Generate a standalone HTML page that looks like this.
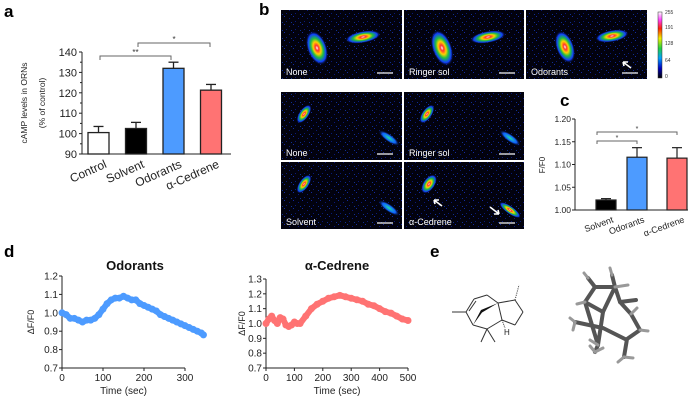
<!DOCTYPE html>
<html><head><meta charset="utf-8"><style>
html,body{margin:0;padding:0;background:#fff}
svg{display:block;font-family:"Liberation Sans",Arial,sans-serif}
</style></head><body>
<svg id="fig" width="700" height="402" viewBox="0 0 700 402">
<defs>
<radialGradient id="cellg" cx="50%" cy="50%" r="50%">
<stop offset="0" stop-color="#ffffff"/><stop offset="0.15" stop-color="#ff3030"/><stop offset="0.35" stop-color="#ffd000"/><stop offset="0.55" stop-color="#20c040"/><stop offset="0.8" stop-color="#1040ff"/><stop offset="1" stop-color="#000010" stop-opacity="0"/>
</radialGradient>
<radialGradient id="cellb" cx="50%" cy="50%" r="50%">
<stop offset="0" stop-color="#20e0a0"/><stop offset="0.6" stop-color="#1060ff"/><stop offset="1" stop-color="#000010" stop-opacity="0"/>
</radialGradient>
<pattern id="noise" width="9" height="8" patternUnits="userSpaceOnUse">
<rect width="9" height="8" fill="#02020e"/>
<rect x="1" y="2" width="1" height="1" fill="#0a1a7a"/><rect x="5" y="0" width="1" height="1" fill="#142aa0"/>
<rect x="7" y="5" width="1" height="1" fill="#0a1a7a"/><rect x="3" y="6" width="1" height="1" fill="#103090"/>
</pattern>
<linearGradient id="cbar" x1="0" y1="1" x2="0" y2="0">
<stop offset="0" stop-color="#000"/><stop offset="0.15" stop-color="#0000c0"/><stop offset="0.3" stop-color="#00a0ff"/><stop offset="0.45" stop-color="#20d040"/><stop offset="0.6" stop-color="#f0f000"/><stop offset="0.75" stop-color="#ff2000"/><stop offset="0.88" stop-color="#ff40ff"/><stop offset="1" stop-color="#fff"/>
</linearGradient>
</defs>
<g id="labels" font-weight="bold" font-size="17">
<text x="4" y="17">a</text>
<text x="259" y="15">b</text>
<text x="560" y="106">c</text>
<text x="4" y="257">d</text>
<text x="430" y="257">e</text>
</g>
<g id="pa"></g>
<g id="pb"></g>
<g id="pc"></g>
<g id="pd"></g>
<g id="pe">
<g stroke="#333" stroke-width="1" fill="none">
<line x1="452" y1="312" x2="466" y2="312"/>
<line x1="466" y1="312" x2="474" y2="299"/><line x1="469" y1="311" x2="476" y2="301"/>
<line x1="474" y1="299" x2="487" y2="295"/><line x1="487" y1="295" x2="498" y2="303"/>
<line x1="466" y1="312" x2="473" y2="325"/><line x1="473" y1="325" x2="487" y2="329"/>
<line x1="487" y1="329" x2="481" y2="342"/><line x1="487" y1="329" x2="495" y2="342"/>
<line x1="487" y1="329" x2="502" y2="320"/><line x1="502" y1="320" x2="498" y2="303"/>
<line x1="498" y1="303" x2="515" y2="300"/><line x1="515" y1="300" x2="523" y2="312"/>
<line x1="523" y1="312" x2="515" y2="325"/><line x1="515" y1="325" x2="502" y2="320"/>
<line x1="515" y1="300" x2="519" y2="285" stroke-dasharray="1 1.2"/>
<line x1="502" y1="320" x2="505" y2="328" stroke-dasharray="1 1"/>
</g>
<polygon points="473,325 481,310 498,303 482,312.5" fill="#111"/>
<text x="504" y="335" font-size="8" fill="#222">H</text>
<g stroke="#555" stroke-width="4" stroke-linecap="round" fill="none">
<path d="M588,278 L595,287 L615,287 L612,275 M595,287 L585,302 L603,312 L615,287 L620,302 L631,314 L640,330 L627,339 L624,357"/>
<path d="M575,322 L603,328 L625,339 M603,312 L598,345 M585,302 L595,335 L598,345 M620,302 L636,300"/>
<path d="M598,345 L595,352"/>
</g>
<g stroke="#999" stroke-width="3" stroke-linecap="round">
<line x1="588" y1="278" x2="584" y2="273"/><line x1="612" y1="275" x2="610" y2="268"/><line x1="615" y1="287" x2="628" y2="285"/>
<line x1="585" y1="302" x2="577" y2="304"/><line x1="575" y1="322" x2="570" y2="318"/><line x1="575" y1="322" x2="573" y2="330"/>
<line x1="631" y1="314" x2="637" y2="308"/><line x1="640" y1="330" x2="648" y2="331"/><line x1="624" y1="357" x2="618" y2="362"/><line x1="624" y1="357" x2="633" y2="358"/>
<line x1="595" y1="352" x2="590" y2="346"/><line x1="595" y1="352" x2="603" y2="348"/><line x1="598" y1="345" x2="590" y2="340"/>
</g>
</g>
</svg>
<script>
// ---------- Panel a data ----------
const aCats = ["Control","Solvent","Odorants","α-Cedrene"];
const aVals = [100.5, 102.5, 132, 121.3];
const aErr = [3.0, 3.0, 3.0, 2.8];
const aTicks = [90,100,110,120,130,140];
// ---------- Panel c data ----------
const cCats = ["Solvent","Odorants","α-Cedrene"];
const cVals = [1.022, 1.116, 1.114];
const cErr = [0.003, 0.021, 0.023];
const cTicks = [1.00,1.05,1.10,1.15,1.20];
// ---------- Panel d data ----------
const odTime = [0,10,20,30,40,50,60,70,80,90,100,110,120,130,140,150,160,170,180,190,200,210,220,230,240,250,260,270,280,290,300,310,320,330,340,345];
const odVals = [1.00,0.99,0.97,0.97,0.96,0.95,0.96,0.96,0.97,0.99,1.02,1.05,1.07,1.08,1.08,1.09,1.08,1.07,1.07,1.05,1.04,1.03,1.02,1.01,0.99,0.98,0.97,0.96,0.95,0.94,0.93,0.92,0.91,0.90,0.89,0.88];
const ceTime = [0,10,20,30,40,50,60,70,80,90,100,110,120,140,160,180,200,220,240,260,280,300,320,340,360,380,400,420,440,460,480,500];
const ceVals = [1.00,1.03,1.05,1.02,1.00,1.04,1.03,0.99,0.98,0.99,1.01,1.00,1.00,1.05,1.10,1.13,1.15,1.17,1.18,1.19,1.18,1.17,1.16,1.15,1.13,1.12,1.10,1.08,1.07,1.05,1.03,1.02];
const odTicksY = [0.7,0.8,0.9,1.0,1.1,1.2];
const ceTicksY = [0.7,0.8,0.9,1.0,1.1,1.2,1.3];
const odTicksX = [0,100,200,300];
const ceTicksX = [0,100,200,300,400,500];

const NS="http://www.w3.org/2000/svg";
function mk(parent,tag,attrs,txt){const e=document.createElementNS(NS,tag);for(const k in attrs)e.setAttribute(k,attrs[k]);if(txt!==undefined)e.textContent=txt;parent.appendChild(e);return e;}
const colA=["#fff","#000","#4d9bff","#ff7373"];

// ---------- Panel a ----------
(function(){
const g=document.getElementById('pa');
const x0=82,x1=231,yTop=52,yBot=154,vMin=90,vMax=140;
const y=v=>yBot-(v-vMin)/(vMax-vMin)*(yBot-yTop);
const bw=21, step=37.5, first=88;
mk(g,'line',{x1:x0,y1:yTop,x2:x0,y2:yBot,stroke:'#222','stroke-width':1});
mk(g,'line',{x1:x0,y1:yBot,x2:x1,y2:yBot,stroke:'#222','stroke-width':1});
aTicks.forEach(t=>{mk(g,'line',{x1:x0-3,y1:y(t),x2:x0,y2:y(t),stroke:'#222'});
 const tl=mk(g,'text',{x:x0-5,y:y(t)+4,'font-size':11,'text-anchor':'end',fill:'#222'},t);
 
 });
for(let v=95;v<140;v+=10)mk(g,'line',{x1:x0-2,y1:y(v),x2:x0,y2:y(v),stroke:'#222'});
aCats.forEach((c,i)=>{const bx=first+i*step;
 const r=mk(g,'rect',{x:bx,y:y(aVals[i]),width:bw,height:yBot-y(aVals[i]),fill:colA[i],stroke:'#222','stroke-width':1.3});
 
 
 const cx=bx+bw/2,ye=y(aVals[i]+aErr[i]);
 mk(g,'line',{x1:cx,y1:y(aVals[i]),x2:cx,y2:ye,stroke:'#222','stroke-width':1.3});
 mk(g,'line',{x1:cx-5,y1:ye,x2:cx+5,y2:ye,stroke:'#222','stroke-width':1.3});
 const lt=mk(g,'text',{x:cx+9,y:yBot+13,'font-size':12,'text-anchor':'end',fill:'#222',transform:`rotate(-24 ${cx+9} ${yBot+13})`},c);
 
 
});
const br=(xa,xb,yy,s)=>{mk(g,'path',{d:`M${xa},${yy+4}V${yy}H${xb}V${yy+4}`,fill:'none',stroke:'#666','stroke-width':1});mk(g,'text',{x:(xa+xb)/2,y:yy-1,'font-size':8,'text-anchor':'middle',fill:'#333'},s);};
br(100,171,56,'**'); br(138,210,43,'*');
const yl=mk(g,'text',{x:0,y:0,'font-size':8.5,'text-anchor':'middle',fill:'#222',transform:'translate(27,103) rotate(-90)'},'cAMP levels in ORNs');


mk(g,'text',{x:0,y:0,'font-size':8.5,'text-anchor':'middle',fill:'#222',transform:'translate(45,103) rotate(-90)'},'(% of control)');
})();

// ---------- Panel b ----------
(function(){
const g=document.getElementById('pb');
const panels=[
 [281,10,121,69,'None',[[36,38,10,18,-20,'g'],[82,27,18,6,-10,'g']],false],
 [404,10,120,69,'Ringer sol',[[38,38,10,19,-20,'g'],[84,27,18,6,-10,'g']],false],
 [526,10,121,69,'Odorants',[[39,37,9,17,-20,'g'],[86,26,17,6,-10,'g']],true],
 [281,92,121,68,'None',[[23,22,5,11,35,'g'],[108,46,4,13,-55,'b']],false],
 [404,92,120,68,'Ringer sol',[[23,22,5,11,35,'g'],[106,46,4,13,-55,'b']],false],
 [281,162,121,67,'Solvent',[[23,22,5,11,35,'g'],[108,46,4,13,-55,'b']],false],
 [404,162,120,67,'α-Cedrene',[[25,22,6,11,35,'g'],[106,48,4,13,-55,'g']],true]
];
panels.forEach((p,i)=>{
 const [x,y,w,h,lab,cells,arrow]=p;
 const r=mk(g,'rect',{x:x,y:y,width:w,height:h,fill:'url(#noise)'});
 
 
 cells.forEach(c=>{mk(g,'ellipse',{cx:x+c[0],cy:y+c[1],rx:c[2],ry:c[3],fill:c[5]==='g'?'url(#cellg)':'url(#cellb)',transform:`rotate(${c[4]} ${x+c[0]} ${y+c[1]})`});});
 mk(g,'text',{x:x+5,y:y+h-4,'font-size':9,fill:'#fff'},lab);
 mk(g,'line',{x1:x+w-25,y1:y+h-6,x2:x+w-9,y2:y+h-6,stroke:'#fff','stroke-width':1.2});
 if(arrow){const ax=i===2?x+97:x+30, ay=i===2?y+52:y+38;
  mk(g,'path',{d:`M${ax+8},${ay+6}L${ax},${ay}M${ax},${ay}l5,0M${ax},${ay}l1,4`,stroke:'#fff','stroke-width':1.6,fill:'none'});
  if(i===6)mk(g,'path',{d:`M${x+86},${y+45}L${x+95},${y+52}M${x+95},${y+52}l-5,0M${x+95},${y+52}l-1,-4`,stroke:'#fff','stroke-width':1.6,fill:'none'});}
});
const cb=mk(g,'rect',{x:658,y:12,width:4,height:66,fill:'url(#cbar)',stroke:'#333','stroke-width':0.5});


[['255',14],['191',29],['128',45],['64',62],['0',78]].forEach(t=>mk(g,'text',{x:665,y:t[1],'font-size':5,fill:'#333'},t[0]));
})();

// ---------- Panel c ----------
(function(){
const g=document.getElementById('pc');
const x0=575,x1=688,yTop=119,yBot=210,vMin=1.0,vMax=1.2;
const y=v=>yBot-(v-vMin)/(vMax-vMin)*(yBot-yTop);
const cols=["#000","#4d9bff","#ff7373"], bxs=[596,627,667], bw=20;
mk(g,'line',{x1:x0,y1:yTop,x2:x0,y2:yBot,stroke:'#222'});
mk(g,'line',{x1:x0,y1:yBot,x2:x1,y2:yBot,stroke:'#222'});
cTicks.forEach(t=>{mk(g,'line',{x1:x0-3,y1:y(t),x2:x0,y2:y(t),stroke:'#222'});
 mk(g,'text',{x:x0-4,y:y(t)+3,'font-size':8.5,'text-anchor':'end',fill:'#222'},t.toFixed(2));});
cCats.forEach((c,i)=>{const bx=bxs[i];
 const r=mk(g,'rect',{x:bx,y:y(cVals[i]),width:bw,height:yBot-y(cVals[i]),fill:cols[i],stroke:'#222','stroke-width':1.2});
 
 
 const cx=bx+bw/2, ye=y(cVals[i]+cErr[i]);
 mk(g,'line',{x1:cx,y1:y(cVals[i]),x2:cx,y2:ye,stroke:'#222','stroke-width':1.2});
 mk(g,'line',{x1:cx-5,y1:ye,x2:cx+5,y2:ye,stroke:'#222','stroke-width':1.2});
 mk(g,'text',{x:cx+8,y:yBot+12,'font-size':9,'text-anchor':'end',fill:'#222',transform:`rotate(-20 ${cx+8} ${yBot+12})`},c);
});
const br=(xa,xb,yy)=>{mk(g,'path',{d:`M${xa},${yy+3}V${yy}H${xb}V${yy+3}`,fill:'none',stroke:'#666'});mk(g,'text',{x:(xa+xb)/2,y:yy-1,'font-size':7,'text-anchor':'middle',fill:'#333'},'*');};
br(597,677,132); br(597,637,141);
mk(g,'text',{x:0,y:0,'font-size':8,'text-anchor':'middle',fill:'#222',transform:'translate(545,165) rotate(-90)'},'F/F0');
})();

// ---------- Panel d ----------
function trace(gid,name,title,times,vals,ticksY,ticksX,x0,x1,tMax,yTop,yBot,vMin,vMax,color,titleX,yLabX){
 const g=document.getElementById('pd');
 const sg=mk(g,'g',{});
 
 
 const X=t=>x0+t/tMax*(x1-x0), Y=v=>yBot-(v-vMin)/(vMax-vMin)*(yBot-yTop);
 const xEnd=X(ticksX[ticksX.length-1])>x1?X(ticksX[ticksX.length-1]):x1;
 mk(sg,'line',{x1:x0,y1:yTop,x2:x0,y2:yBot,stroke:'#222'});
 mk(sg,'line',{x1:x0,y1:yBot,x2:xEnd,y2:yBot,stroke:'#222'});
 ticksY.forEach(t=>{mk(sg,'line',{x1:x0-3,y1:Y(t),x2:x0,y2:Y(t),stroke:'#222'});
  mk(sg,'text',{x:x0-4,y:Y(t)+3.5,'font-size':10,'text-anchor':'end',fill:'#222'},t.toFixed(1));});
 ticksX.forEach(t=>{mk(sg,'line',{x1:X(t),y1:yBot,x2:X(t),y2:yBot+3,stroke:'#222'});
  mk(sg,'text',{x:X(t),y:yBot+13,'font-size':10,'text-anchor':'middle',fill:'#222'},t);});
 const pts=times.map((t,i)=>X(t)+','+Y(vals[i])).join(' ');
 const pl=mk(sg,'polyline',{points:pts,fill:'none',stroke:color,'stroke-width':6,'stroke-linejoin':'round','stroke-linecap':'round'});
 
 
 times.forEach((t,i)=>mk(sg,'circle',{cx:X(t),cy:Y(vals[i]),r:3.5,fill:color}));
 mk(sg,'text',{x:titleX,y:270,'font-size':13,'font-weight':'bold','text-anchor':'middle',fill:'#111'},title);
 mk(sg,'text',{x:(x0+xEnd)/2,y:yBot+26,'font-size':10,'text-anchor':'middle',fill:'#222'},'Time (sec)');
 mk(sg,'text',{x:0,y:0,'font-size':9,'text-anchor':'middle',fill:'#222',transform:`translate(${yLabX},${(yTop+yBot)/2}) rotate(-90)`},'ΔF/F0');
}
trace('pd','odorants-trace','Odorants',odTime,odVals,odTicksY,odTicksX,62,185,300,276,368,0.7,1.2,'#4d9bff',135,34);
trace('pd','cedrene-trace','α-Cedrene',ceTime,ceVals,ceTicksY,ceTicksX,266,408,500,279,368,0.7,1.3,'#ff7373',337,245);
</script>
</body></html>
